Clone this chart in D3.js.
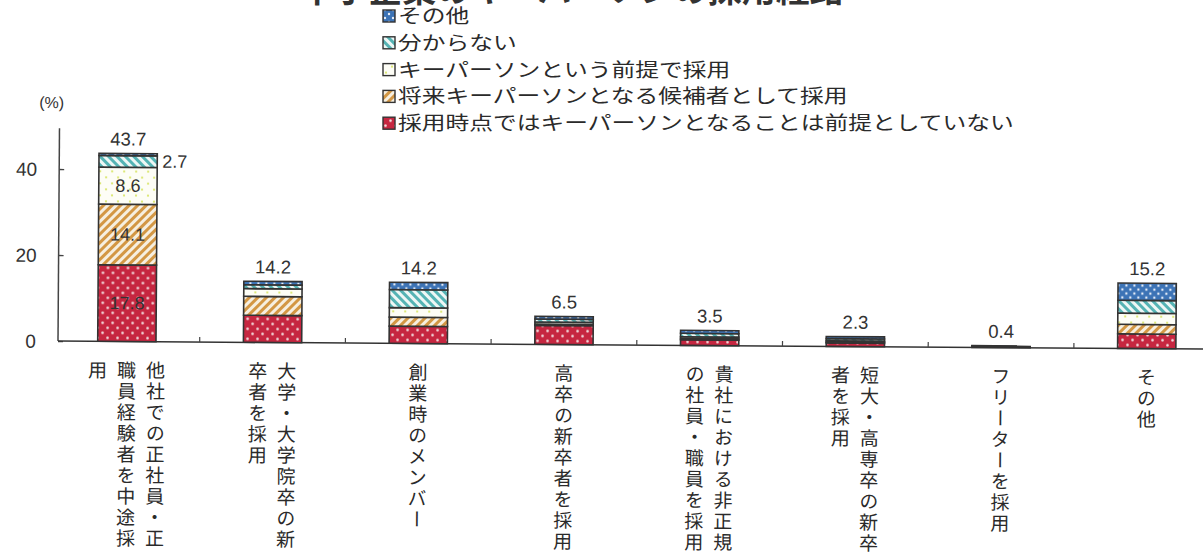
<!DOCTYPE html>
<html>
<head>
<meta charset="UTF-8">
<title>中小企業のキーパーソンの採用経路</title>
<script src="https://d3js.org/d3.v7.min.js"></script>
<style>
  body { margin: 0; background: #fff; }
  svg { display: block; }
  .jp { font-family: "Noto Sans CJK JP", sans-serif; fill: #2a2a2a; }
  .num { font-family: "Liberation Sans", Arial, sans-serif; fill: #333; }
</style>
</head>
<body>
<div id="chart"></div>
<script>
// カテゴリ（縦書きラベルは列ごとに分割）
const categories = ["中途採用", "大学新卒", "創業時", "高卒新卒", "非正規から", "短大高専新卒", "フリーター", "その他"];
const xLabelLines = [
  ["他社での正社員・正", "職員経験者を中途採", "用"],
  ["大学・大学院卒の新", "卒者を採用"],
  ["創業時のメンバー"],
  ["高卒の新卒者を採用"],
  ["貴社における非正規", "の社員・職員を採用"],
  ["短大・高専卒の新卒", "者を採用"],
  ["フリーターを採用"],
  ["その他"]
];

// 系列（下から順）
const seriesNames = [
  "採用時点ではキーパーソンとなることは前提としていない",
  "将来キーパーソンとなる候補者として採用",
  "キーパーソンという前提で採用",
  "分からない",
  "その他"
];
const notPremise = [17.8, 6.3, 4.0, 4.4, 1.3, 0.8, 0.1, 3.4];
const candidate  = [14.1, 4.4, 2.1, 0.3, 0.3, 0.2, 0.0, 2.2];
const keyPremise = [8.6, 1.8, 2.2, 0.5, 0.4, 0.3, 0.1, 2.6];
const unknown    = [2.7, 0.9, 4.2, 0.7, 0.8, 0.5, 0.1, 3.0];
const otherVals  = [0.5, 0.8, 1.7, 0.6, 0.7, 0.5, 0.1, 4.0];
const totals     = [43.7, 14.2, 14.2, 6.5, 3.5, 2.3, 0.4, 15.2];
const yTicks = [0, 20, 40];

const keys = ["s0", "s1", "s2", "s3", "s4"];
const seriesVals = [notPremise, candidate, keyPremise, unknown, otherVals];
const table = categories.map((c, i) => {
  const row = { cat: c, total: totals[i] };
  keys.forEach((k, j) => row[k] = seriesVals[j][i]);
  return row;
});

const width = 1203, height = 553;
const x0 = 58, yBase = 341;

const svg = d3.select("#chart").append("svg")
  .attr("width", width).attr("height", height);

// パターン
const defs = svg.append("defs");
function dots(id, bg, dot, size, r) {
  const p = defs.append("pattern").attr("id", id).attr("patternUnits", "userSpaceOnUse")
    .attr("width", size).attr("height", size);
  p.append("rect").attr("width", size).attr("height", size).attr("fill", bg);
  p.append("circle").attr("cx", size / 4).attr("cy", size / 4).attr("r", r).attr("fill", dot);
  p.append("circle").attr("cx", size * 3 / 4).attr("cy", size * 3 / 4).attr("r", r).attr("fill", dot);
}
function stripes(id, bg, fg, size, angle, w) {
  const p = defs.append("pattern").attr("id", id).attr("patternUnits", "userSpaceOnUse")
    .attr("width", size).attr("height", size).attr("patternTransform", `rotate(${angle})`);
  p.append("rect").attr("width", size).attr("height", size).attr("fill", bg);
  p.append("rect").attr("width", w).attr("height", size).attr("fill", fg);
}
dots("pRed", "#c62640", "#f4e6e6", 10, 1.3);
stripes("pOrange", "#f6efe0", "#d39744", 6, 45, 3);
dots("pWhite", "#fdfdf6", "#d5e35a", 12, 1.1);
stripes("pTeal", "#eef7f5", "#55b3b4", 6, -45, 3);
dots("pBlue", "#3c73b6", "#e8eef8", 8, 1.2);
const fills = ["url(#pRed)", "url(#pOrange)", "url(#pWhite)", "url(#pTeal)", "url(#pBlue)"];

// タイトル（上端で切れている）
svg.append("text").attr("class", "jp")
  .attr("x", 572).attr("y", 2)
  .attr("text-anchor", "middle")
  .attr("font-size", 34).attr("font-weight", "bold")
  .style("fill", "#333")
  .text("中小企業のキーパーソンの採用経路");

// 凡例（横長の書体を横方向の拡大で再現）
const legendOrder = [4, 3, 2, 1, 0];
const lg = svg.append("g").attr("transform", "translate(383,16)");
legendOrder.forEach((si, i) => {
  const g = lg.append("g").attr("transform", `translate(0,${i * 26.8})`);
  g.append("rect").attr("x", 0).attr("y", -6).attr("width", 12).attr("height", 12)
    .attr("fill", fills[si]).attr("stroke", "#333").attr("stroke-width", 1.4);
  g.append("text").attr("class", "jp")
    .attr("transform", "translate(15,7) scale(1.25,1)")
    .attr("font-size", 19).text(seriesNames[si]);
});

// プロット（スキャンのわずかな傾きを再現）
const plot = svg.append("g").attr("transform", `rotate(0.4,${x0},${yBase})`);

const x = d3.scaleBand().domain(categories)
  .range([54, 54 + 8 * 145.7]).paddingInner(0.6).paddingOuter(0.3);
const y = d3.scaleLinear().domain([0, 50]).range([yBase, yBase - 50 * 4.3]);

const stack = d3.stack().keys(keys)(table);

// Y軸
const yAxis = plot.append("g").attr("transform", `translate(${x0},0)`)
  .call(d3.axisRight(y).tickValues(yTicks).tickSize(5).tickFormat(""));
yAxis.select(".domain").remove();
yAxis.selectAll("line").attr("stroke", "#444").attr("stroke-width", 1.3);
plot.append("line").attr("x1", x0).attr("x2", x0)
  .attr("y1", y(0)).attr("y2", y(49.5))
  .attr("stroke", "#444").attr("stroke-width", 1.5);
plot.selectAll(".ytl").data(yTicks).enter().append("text")
  .attr("class", "num").attr("x", 36).attr("y", d => y(d) + 7)
  .attr("text-anchor", "end").attr("font-size", 19).text(d => d);
plot.append("text").attr("class", "num").attr("x", 50).attr("y", 108)
  .attr("text-anchor", "middle").attr("font-size", 16).text("(%)");

// X軸
plot.append("line").attr("x1", x0).attr("x2", width + 20)
  .attr("y1", yBase).attr("y2", yBase)
  .attr("stroke", "#333").attr("stroke-width", 1.5);
const bounds = categories.slice(1).map(c => x(c) - x.step() * x.paddingInner() / 2);
plot.selectAll(".xt").data(bounds).enter().append("line")
  .attr("x1", d => d).attr("x2", d => d)
  .attr("y1", yBase).attr("y2", yBase - 5)
  .attr("stroke", "#444").attr("stroke-width", 1.2);

// 棒
plot.selectAll(".layer").data(stack).enter().append("g")
  .attr("fill", (d, i) => fills[i])
  .selectAll("rect").data(d => d).enter().append("rect")
  .attr("x", d => x(d.data.cat))
  .attr("y", d => y(d[1]))
  .attr("width", x.bandwidth())
  .attr("height", d => y(d[0]) - y(d[1]))
  .attr("stroke", "#333").attr("stroke-width", 1.6);

// 合計ラベル
plot.selectAll(".tot").data(table).enter().append("text")
  .attr("class", "num")
  .attr("x", d => x(d.cat) + x.bandwidth() / 2)
  .attr("y", d => y(d.total) - 8)
  .attr("text-anchor", "middle").attr("font-size", 18.5)
  .text(d => d.total.toFixed(1));

// 先頭の棒の内訳ラベル
const first = categories[0];
[0, 1, 2].forEach(si => {
  const seg = stack[si][0];
  plot.append("text").attr("class", "num")
    .attr("x", x(first) + x.bandwidth() / 2)
    .attr("y", (y(seg[0]) + y(seg[1])) / 2 + 6)
    .attr("text-anchor", "middle").attr("font-size", 18)
    .text(seriesVals[si][0].toFixed(1));
});
{
  const seg = stack[3][0];
  plot.append("text").attr("class", "num")
    .attr("x", x(first) + x.bandwidth() + 5)
    .attr("y", (y(seg[0]) + y(seg[1])) / 2 + 6)
    .attr("font-size", 18)
    .text(seriesVals[3][0].toFixed(1));
}

// 縦書きカテゴリラベル
categories.forEach((c, i) => {
  const cx = x(c) + x.bandwidth() / 2;
  const lines = xLabelLines[i];
  const n = lines.length;
  lines.forEach((ln, j) => {
    const colX = cx + ((n - 1) / 2 - j) * 29;
    plot.append("text").attr("class", "jp")
      .attr("x", colX).attr("y", 360)
      .style("writing-mode", "vertical-rl")
      .attr("font-size", 19).attr("letter-spacing", 2)
      .text(ln);
  });
});
</script>
</body>
</html>
